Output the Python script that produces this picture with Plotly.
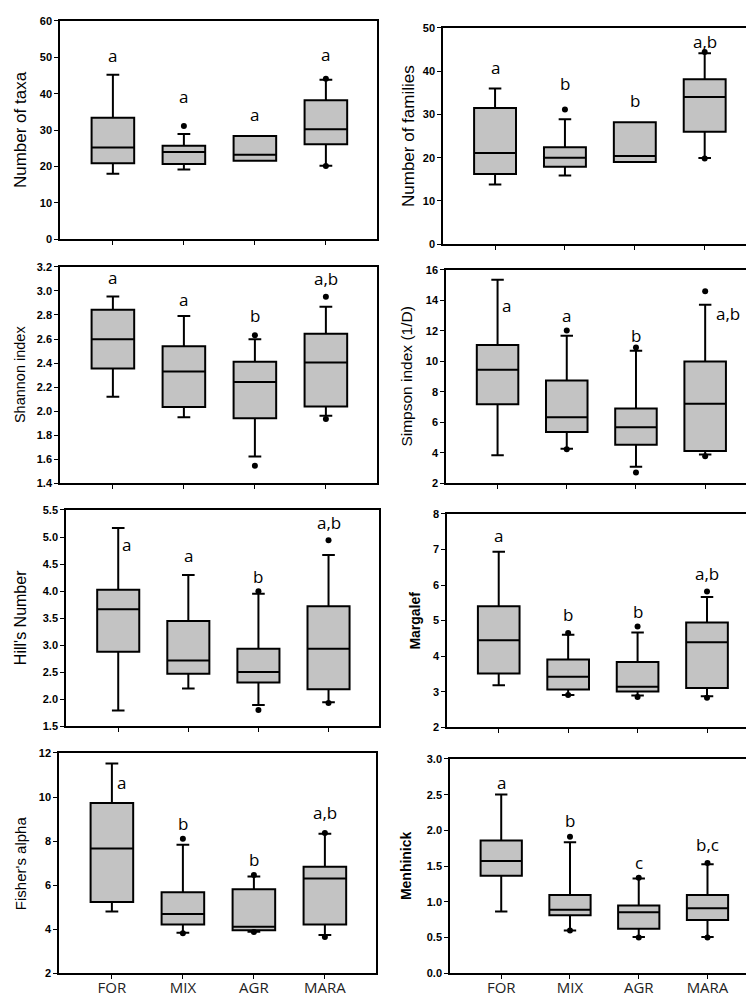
import plotly.graph_objects as go

W, H = 754, 997

sites = ["FOR", "MIX", "AGR", "MARA"]

# Number of taxa
taxa_q1 = [20.9, 20.7, 21.6, 26.1]
taxa_med = [25.2, 24.0, 23.2, 30.2]
taxa_q3 = [33.4, 25.7, 28.4, 38.2]
taxa_lo = [18.0, 19.2, 21.6, 20.2]
taxa_hi = [45.2, 28.9, 28.4, 43.8]
taxa_out_x = ["MIX", "MARA", "MARA"]
taxa_out_y = [31.1, 44.1, 20.1]
taxa_letters = ["a", "a", "a", "a"]
taxa_letter_y = [50.6, 39.3, 34.3, 50.9]

# Number of families
fam_q1 = [16.2, 17.9, 19.0, 26.0]
fam_med = [21.1, 20.0, 20.4, 34.0]
fam_q3 = [31.5, 22.4, 28.2, 38.1]
fam_lo = [13.8, 15.9, 19.0, 19.9]
fam_hi = [36.0, 28.9, 28.2, 44.1]
fam_out_x = ["MIX", "MARA", "MARA"]
fam_out_y = [31.1, 44.4, 19.8]
fam_letters = ["a", "b", "b", "a,b"]
fam_letter_y = [40.9, 37.1, 33.1, 46.8]

# Shannon index
sha_q1 = [2.355, 2.035, 1.942, 2.038]
sha_med = [2.598, 2.330, 2.243, 2.404]
sha_q3 = [2.844, 2.541, 2.412, 2.645]
sha_lo = [2.120, 1.950, 1.622, 1.961]
sha_hi = [2.954, 2.792, 2.598, 2.869]
sha_out_x = ["AGR", "AGR", "MARA", "MARA"]
sha_out_y = [2.631, 1.545, 2.951, 1.934]
sha_letters = ["a", "a", "b", "a,b"]
sha_letter_y = [3.11, 2.93, 2.795, 3.10]

# Simpson index (1/D)
sim_q1 = [7.19, 5.37, 4.53, 4.12]
sim_med = [9.45, 6.34, 5.67, 7.21]
sim_q3 = [11.07, 8.74, 6.90, 9.99]
sim_lo = [3.84, 4.27, 3.08, 3.88]
sim_hi = [15.35, 11.68, 10.69, 13.71]
sim_out_x = ["MIX", "MIX", "AGR", "AGR", "MARA", "MARA"]
sim_out_y = [12.03, 4.23, 10.90, 2.71, 14.60, 3.77]
sim_letters = ["a", "a", "b", "a,b"]
sim_letter_y = [13.67, 13.02, 11.72, 13.13]

# Hill's Number
hill_q1 = [2.88, 2.473, 2.309, 2.187]
hill_med = [3.664, 2.716, 2.503, 2.935]
hill_q3 = [4.023, 3.445, 2.935, 3.719]
hill_lo = [1.792, 2.199, 1.895, 1.944]
hill_hi = [5.166, 4.296, 3.95, 4.667]
hill_out_x = ["AGR", "AGR", "MARA", "MARA"]
hill_out_y = [3.998, 1.804, 4.94, 1.93]
hill_letters = ["a", "a", "b", "a,b"]
hill_letter_y = [4.86, 4.667, 4.272, 5.275]

# Margalef
mar_q1 = [3.513, 3.06, 3.005, 3.106]
mar_med = [4.445, 3.42, 3.143, 4.39]
mar_q3 = [5.405, 3.91, 3.836, 4.944]
mar_lo = [3.18, 2.91, 2.895, 2.875]
mar_hi = [6.938, 4.602, 4.667, 5.664]
mar_out_x = ["MIX", "MIX", "AGR", "AGR", "MARA", "MARA"]
mar_out_y = [4.65, 2.91, 4.833, 2.85, 5.82, 2.83]
mar_letters = ["a", "b", "b", "a,b"]
mar_letter_y = [7.4, 5.18, 5.25, 6.33]

# Fisher's alpha
fis_q1 = [5.234, 4.22, 3.95, 4.22]
fis_med = [7.66, 4.69, 4.11, 6.30]
fis_q3 = [9.725, 5.68, 5.82, 6.84]
fis_lo = [4.81, 3.84, 3.89, 3.74]
fis_hi = [11.52, 7.84, 6.39, 8.33]
fis_out_x = ["MIX", "MIX", "AGR", "AGR", "MARA", "MARA"]
fis_out_y = [8.11, 3.82, 6.46, 3.88, 8.37, 3.65]
fis_letters = ["a", "b", "b", "a,b"]
fis_letter_y = [10.65, 8.78, 7.18, 9.28]

# Menhinick
men_q1 = [1.364, 0.811, 0.622, 0.747]
men_med = [1.571, 0.889, 0.853, 0.912]
men_q3 = [1.857, 1.097, 0.949, 1.097]
men_lo = [0.866, 0.599, 0.507, 0.507]
men_hi = [2.502, 1.834, 1.327, 1.525]
men_out_x = ["MIX", "MIX", "AGR", "AGR", "MARA", "MARA"]
men_out_y = [1.912, 0.599, 1.336, 0.50, 1.544, 0.50]
men_letters = ["a", "b", "c", "b,c"]
men_letter_y = [2.673, 2.134, 1.548, 1.797]

panels = [
    dict(title="Number of taxa", stats=(taxa_q1, taxa_med, taxa_q3, taxa_lo, taxa_hi),
         out=(taxa_out_x, taxa_out_y), letters=(taxa_letters, taxa_letter_y), lshift=[0, 0, 0, 0],
         yr=[0, 60], dt=10, fmt="d", px=(52, 369, 7, 228), tx=12, tsize=17, bold=False),
    dict(title="Number of families", stats=(fam_q1, fam_med, fam_q3, fam_lo, fam_hi),
         out=(fam_out_x, fam_out_y), letters=(fam_letters, fam_letter_y), lshift=[0, 0, 0, 0],
         yr=[0, 50], dt=10, fmt="d", px=(435, 747, 14, 233), tx=400, tsize=17, bold=False),
    dict(title="Shannon index", stats=(sha_q1, sha_med, sha_q3, sha_lo, sha_hi),
         out=(sha_out_x, sha_out_y), letters=(sha_letters, sha_letter_y), lshift=[0, 0, 0, 0],
         yr=[1.4, 3.2], dt=0.2, fmt=".1f", px=(52, 369, 256, 475), tx=12, tsize=14.5, bold=False),
    dict(title="Simpson index (1/D)", stats=(sim_q1, sim_med, sim_q3, sim_lo, sim_hi),
         out=(sim_out_x, sim_out_y), letters=(sim_letters, sim_letter_y), lshift=[9, 0, 0, 23],
         yr=[2, 16], dt=2, fmt="d", px=(438, 747, 259, 475), tx=399, tsize=15.5, bold=False),
    dict(title="Hill's Number", stats=(hill_q1, hill_med, hill_q3, hill_lo, hill_hi),
         out=(hill_out_x, hill_out_y), letters=(hill_letters, hill_letter_y), lshift=[8, 0, 0, 0],
         yr=[1.5, 5.5], dt=0.5, fmt=".1f", px=(58, 371, 502, 721), tx=12, tsize=16, bold=False),
    dict(title="Margalef", stats=(mar_q1, mar_med, mar_q3, mar_lo, mar_hi),
         out=(mar_out_x, mar_out_y), letters=(mar_letters, mar_letter_y), lshift=[0, 0, 0, 0],
         yr=[2, 8], dt=1, fmt="d", px=(439, 749, 506, 722), tx=407, tsize=14, bold=True),
    dict(title="Fisher's alpha", stats=(fis_q1, fis_med, fis_q3, fis_lo, fis_hi),
         out=(fis_out_x, fis_out_y), letters=(fis_letters, fis_letter_y), lshift=[10, 0, 0, 0],
         yr=[2, 12], dt=2, fmt="d", px=(51, 368, 748, 971), tx=12, tsize=15, bold=False),
    dict(title="Menhinick", stats=(men_q1, men_med, men_q3, men_lo, men_hi),
         out=(men_out_x, men_out_y), letters=(men_letters, men_letter_y), lshift=[0, 0, 0, 0],
         yr=[0, 3.0], dt=0.5, fmt=".1f", px=(442, 749, 754, 971), tx=398, tsize=14, bold=True),
]

fig = go.Figure()
annotations = []

for i, p in enumerate(panels):
    n = i + 1
    xa = "x" if n == 1 else f"x{n}"
    ya = "y" if n == 1 else f"y{n}"
    q1, med, q3, lo, hi = p["stats"]
    fig.add_trace(go.Box(
        x=sites, q1=q1, median=med, q3=q3, lowerfence=lo, upperfence=hi,
        xaxis=xa, yaxis=ya, fillcolor="#c3c3c3",
        line=dict(color="black", width=2), width=0.6, whiskerwidth=0.3,
        boxpoints=False, showlegend=False, hoverinfo="skip"))
    ox, oy = p["out"]
    fig.add_trace(go.Scatter(
        x=ox, y=oy, xaxis=xa, yaxis=ya, mode="markers",
        marker=dict(color="black", size=6), showlegend=False, hoverinfo="skip"))

    x0, x1, y0, y1 = p["px"]
    bottom = n >= 7
    fig.layout[f"xaxis{'' if n == 1 else n}"] = dict(
        domain=[x0 / W, x1 / W], anchor=ya, type="category",
        categoryorder="array", categoryarray=sites, range=[-0.745, 3.72],
        showline=True, mirror=True, linecolor="black", linewidth=1.5,
        ticks="outside", ticklen=4, tickcolor="black", tickwidth=1,
        showticklabels=bottom, showgrid=False, zeroline=False,
        ticklabelstandoff=-4,
        tickfont=dict(family="Open Sans", size=15, color="#222"))
    fig.layout[f"yaxis{'' if n == 1 else n}"] = dict(
        domain=[1 - y1 / H, 1 - y0 / H], anchor=xa, range=p["yr"], dtick=p["dt"],
        tick0=p["yr"][0], tickformat=p["fmt"],
        showline=True, mirror=True, linecolor="black", linewidth=1.5,
        ticks="outside", ticklen=4, tickcolor="black", tickwidth=1,
        showgrid=False, zeroline=False,
        tickfont=dict(family="Liberation Sans, Arial", size=11, color="black", weight="bold"))

    annotations.append(dict(
        text=p["title"], xref="paper", yref="paper", x=p["tx"] / W,
        y=1 - (y0 + y1) / 2 / H, textangle=-90, showarrow=False,
        xanchor="center", yanchor="middle",
        font=dict(family="Liberation Sans, Arial", size=p["tsize"], color="black",
                  weight="bold" if p["bold"] else "normal")))

    lt, ly = p["letters"]
    for s, t, yv, sh in zip(sites, lt, ly, p["lshift"]):
        annotations.append(dict(
            text=t, x=s, y=yv, xref=xa, yref=ya, showarrow=False, xshift=sh,
            xanchor="center", yanchor="middle",
            font=dict(family="Open Sans", size=17, color="black")))

fig.update_layout(
    width=W, height=H, margin=dict(l=0, r=0, t=0, b=0),
    paper_bgcolor="white", plot_bgcolor="white",
    annotations=annotations)

fig.write_html("out.html")
